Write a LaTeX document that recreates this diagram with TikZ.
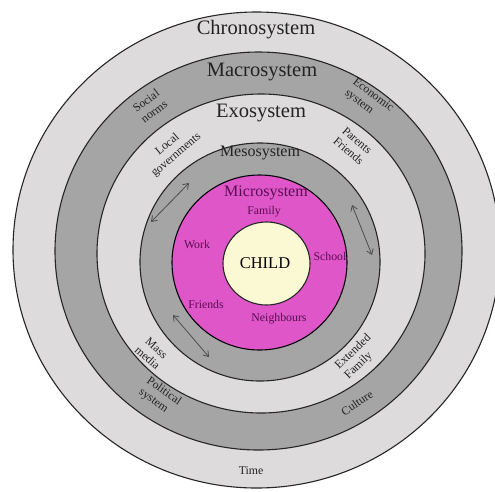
\documentclass[tikz,border=0pt]{standalone}
\usepackage{fontspec}
\setmainfont{Liberation Serif}
\usetikzlibrary{arrows.meta}
\definecolor{ringlight}{RGB}{221,219,219}
\definecolor{ringdark}{RGB}{165,165,165}
\definecolor{microfill}{RGB}{222,86,200}
\definecolor{childfill}{RGB}{251,248,212}
\definecolor{microtext}{RGB}{92,12,84}
\definecolor{labeltext}{RGB}{35,35,35}
\begin{document}
\begin{tikzpicture}[x=1pt,y=-1pt,
  ring/.style={draw=black!85, line width=1.1pt},
  bigtitle/.style={text=labeltext, inner sep=0pt, font=\fontsize{20.5}{22}\selectfont},
  midtitle/.style={text=labeltext, inner sep=0pt, font=\fontsize{16}{18}\selectfont},
  microtitle/.style={text=microtext, inner sep=0pt, font=\fontsize{16}{18}\selectfont},
  microlabel/.style={text=microtext, inner sep=0pt, font=\fontsize{11.8}{13}\selectfont},
  ringlabel/.style={text=labeltext, inner sep=0pt, font=\fontsize{11.8}{13.5}\selectfont},
  dblarrow/.style={draw=black!70, line width=0.8pt, {Straight Barb[length=5pt,width=7pt]}-{Straight Barb[length=5pt,width=7pt]}}
]
\useasboundingbox (0,0) rectangle (495,491);
\fill[white] (0,0) rectangle (495,491);

% rings
\draw[ring, fill=ringlight] (256.5,250) ellipse [x radius=243.5pt, y radius=238pt];
\draw[ring, fill=ringdark] (258.5,251) ellipse [x radius=203.5pt, y radius=199pt];
\draw[ring, fill=ringlight] (261,253.5) ellipse [x radius=164pt, y radius=159.5pt];
\draw[ring, fill=ringdark] (260,262) ellipse [x radius=120pt, y radius=119pt];
\draw[ring, draw=black!90!microtext, fill=microfill] (259.5,262.5) ellipse [x radius=87.5pt, y radius=87.5pt];
\draw[ring, fill=childfill] (266.5,263.5) ellipse [x radius=43.5pt, y radius=41.5pt];

% titles
\node[bigtitle] (chrono) at (256,30) {Chronosystem};
\node[bigtitle] (macro) at (262,72) {Macrosystem};
\node[bigtitle] (exo) at (261,113) {Exosystem};
\node[midtitle] (meso) at (260,153) {Mesosystem};
\node[microtitle] (micro) at (266,193) {Microsystem};
\node[text=black, inner sep=0pt, font=\fontsize{16.5}{18}\selectfont] (child) at (265,263) {CHILD};

% microsystem labels
\node[microlabel] (family) at (264,212) {Family};
\node[microlabel] (work) at (197,244) {Work};
\node[microlabel] (school) at (330,256) {School};
\node[microlabel] (friends) at (206,304) {Friends};
\node[microlabel] (neigh) at (279,319) {Neighbours};

% ring labels
\node[ringlabel, rotate=37, align=left] (social) at (150,106) {Social\\norms};
\node[ringlabel, rotate=-37, align=left] (econ) at (369,101) {Economic\\system};
\node[ringlabel, rotate=40, align=center] (localgov) at (172,150) {Local\\governments};
\node[ringlabel, rotate=-41, align=left] (parents) at (353,146) {Parents\\Friends};
\node[ringlabel, rotate=-42, align=center] (mass) at (152,353) {Mass\\media};
\node[ringlabel, rotate=-35, align=left] (political) at (160,397) {Political\\system};
\node[ringlabel, rotate=44, align=left] (extended) at (358,357) {Extended\\Family};
\node[ringlabel, rotate=34, align=center] (culture) at (357,403) {Culture};
\node[ringlabel] (time) at (251,471) {Time};

% double arrows in mesosystem ring
\coordinate (a1s) at (189,183);
\coordinate (a1e) at (151,222);
\coordinate (a2s) at (352,205);
\coordinate (a2e) at (372,255);
\coordinate (a3s) at (173,315);
\coordinate (a3e) at (209,357);
\draw[dblarrow] (a1s) -- (a1e);
\draw[dblarrow] (a2s) -- (a2e);
\draw[dblarrow] (a3s) -- (a3e);
\end{tikzpicture}
\end{document}
